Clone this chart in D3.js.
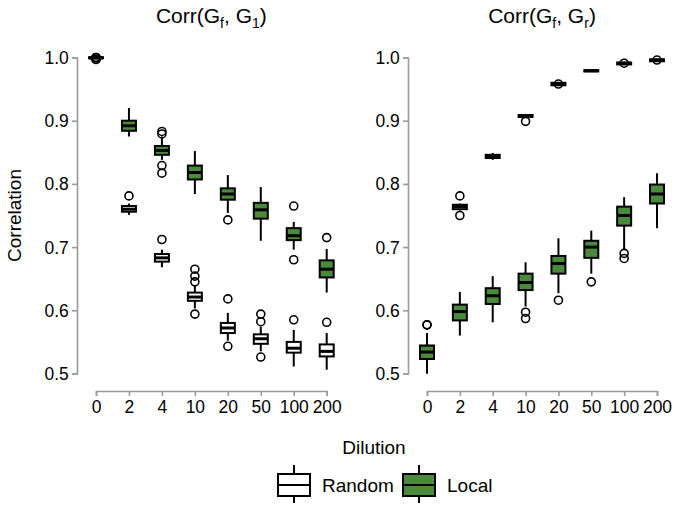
<!DOCTYPE html>
<html><head><meta charset="utf-8">
<script src="https://cdn.jsdelivr.net/npm/d3@7"></script>
<style>
body{margin:0;background:#fff;}
text{font-family:"Liberation Sans",Arial,sans-serif;fill:#000;}
</style></head>
<body><svg id="chart" width="679" height="506"></svg>
<script>
// ---------- data ----------
const dilutions = ["0","2","4","10","20","50","100","200"];
const yTicks = [0.5,0.6,0.7,0.8,0.9,1.0];
const seriesNames = ["Random","Local"];
const seriesColors = ["#ffffff","#4b8a3c"];

// stats per dilution: [lowWhisker, Q1, median, Q3, highWhisker]
const g1Random = [
  [0.9985,0.9990,0.9995,1.000,1.000],
  [0.751,0.756,0.760,0.765,0.769],
  [0.668,0.677,0.683,0.689,0.696],
  [0.603,0.615,0.621,0.628,0.640],
  [0.552,0.564,0.572,0.580,0.596],
  [0.535,0.547,0.555,0.562,0.574],
  [0.511,0.533,0.540,0.550,0.569],
  [0.506,0.527,0.535,0.546,0.564]
];
const g1RandomOut = [[0.997,1.000],[0.781],[0.712],[0.665,0.654,0.645,0.594],[0.618,0.543],[0.594,0.582,0.526],[0.585],[0.581]];

const g1Local = [
  [0.9985,0.9990,0.9995,1.000,1.000],
  [0.875,0.884,0.892,0.900,0.920],
  [0.838,0.846,0.853,0.860,0.875],
  [0.784,0.807,0.818,0.829,0.852],
  [0.754,0.775,0.784,0.793,0.814],
  [0.710,0.745,0.759,0.770,0.795],
  [0.696,0.711,0.718,0.730,0.740],
  [0.628,0.652,0.665,0.679,0.697]
];
const g1LocalOut = [[0.997,1.000],[],[0.883,0.879,0.829,0.817],[],[0.743],[],[0.765,0.680],[0.715]];

const grRandom = [
  [0.500,0.523,0.534,0.544,0.564],
  [0.758,0.760,0.764,0.767,0.769],
  [0.838,0.841,0.844,0.846,0.849],
  [0.905,0.906,0.907,0.909,0.910],
  [0.955,0.956,0.958,0.960,0.961],
  [0.977,0.978,0.979,0.980,0.980],
  [0.988,0.989,0.991,0.992,0.993],
  [0.993,0.994,0.996,0.997,0.998]
];
const grRandomOut = [[0.577],[0.781,0.750],[],[0.899],[0.958],[],[0.991],[0.996]];

const grLocal = [
  [0.500,0.523,0.534,0.544,0.564],
  [0.560,0.584,0.598,0.609,0.629],
  [0.581,0.610,0.623,0.635,0.654],
  [0.606,0.632,0.644,0.658,0.676],
  [0.627,0.658,0.674,0.686,0.714],
  [0.658,0.683,0.700,0.710,0.726],
  [0.696,0.734,0.750,0.764,0.779],
  [0.730,0.769,0.784,0.799,0.817]
];
const grLocalOut = [[0.577],[],[],[0.597,0.587],[0.616],[0.645],[0.690,0.682],[]];

// ---------- layout ----------
const svg = d3.select("#chart");
const axisColor = "#9a9a9a";
const boxW = 14;

const y = d3.scaleLinear().domain([0.5,1.0]).range([373.5,57.5]);

const panels = [
  {title:["Corr(G","f",", G","1",")"], x0:96, x1:326.7, yAxisX:77,
   series:[[g1Random,g1RandomOut],[g1Local,g1LocalOut]]},
  {title:["Corr(G","f",", G","r",")"], x0:427, x1:657, yAxisX:408,
   series:[[grRandom,grRandomOut],[grLocal,grLocalOut]]}
];

function styleAxis(g){
  g.selectAll("path,line").attr("stroke",axisColor).attr("stroke-width",1.6);
  g.selectAll("text").style("font-size","19px").attr("fill","#000")
    .attr("transform","scale(0.92,1)");
}

panels.forEach(p=>{
  const x = d3.scalePoint().domain(dilutions).range([p.x0,p.x1]);
  const ya = svg.append("g").attr("transform",`translate(${p.yAxisX},0)`)
    .call(d3.axisLeft(y).tickValues(yTicks).tickFormat(d3.format(".1f")).tickSize(5).tickPadding(4));
  styleAxis(ya);
  const xa = svg.append("g").attr("transform","translate(0,391)")
    .call(d3.axisBottom(x).tickSize(5).tickPadding(4));
  styleAxis(xa);
  const t = svg.append("text").attr("x",(p.x0+p.x1)/2).attr("y",23)
    .attr("text-anchor","middle").style("font-size","21px");
  p.title.forEach((s,i)=>{
    const ts = t.append("tspan").text(s);
    if(i%2===1){ ts.style("font-size","14px").attr("dy",5); }
    else if(i>0){ ts.attr("dy",-5); }
  });
  p.series.forEach(([stats,outs],si)=>{
    const g = svg.append("g");
    stats.forEach((s,i)=>{
      const cx = x(dilutions[i]);
      const [lo,q1,md,q3,hi] = s;
      g.append("line").attr("x1",cx).attr("x2",cx).attr("y1",y(hi)).attr("y2",y(lo))
        .attr("stroke","#000").attr("stroke-width",2);
      g.append("rect").attr("x",cx-boxW/2).attr("width",boxW)
        .attr("y",y(q3)).attr("height",Math.max(y(q1)-y(q3),0.5))
        .attr("fill",seriesColors[si]).attr("stroke","#000").attr("stroke-width",2);
      g.append("line").attr("x1",cx-boxW/2).attr("x2",cx+boxW/2).attr("y1",y(md)).attr("y2",y(md))
        .attr("stroke","#000").attr("stroke-width",3);
      outs[i].forEach(o=>{
        g.append("circle").attr("cx",cx).attr("cy",y(o)).attr("r",4)
          .attr("fill","none").attr("stroke","#000").attr("stroke-width",1.6);
      });
    });
  });
});

svg.append("text").attr("transform","translate(21,215.5) rotate(-90)")
  .attr("text-anchor","middle").style("font-size","19px").text("Correlation");
svg.append("text").attr("x",374).attr("y",454).attr("text-anchor","middle")
  .style("font-size","19px").text("Dilution");

const leg = svg.append("g");
const legX = [294, 419];
seriesNames.forEach((n,i)=>{
  const cx = legX[i];
  leg.append("line").attr("x1",cx).attr("x2",cx).attr("y1",465).attr("y2",503)
    .attr("stroke","#000").attr("stroke-width",2);
  leg.append("rect").attr("x",cx-16).attr("y",474).attr("width",32).attr("height",22)
    .attr("fill",seriesColors[i]).attr("stroke","#000").attr("stroke-width",2);
  leg.append("line").attr("x1",cx-16).attr("x2",cx+16).attr("y1",485).attr("y2",485)
    .attr("stroke","#000").attr("stroke-width",2);
  leg.append("text").attr("x",cx+28).attr("y",492).style("font-size","19px").text(n);
});
</script></body></html>
